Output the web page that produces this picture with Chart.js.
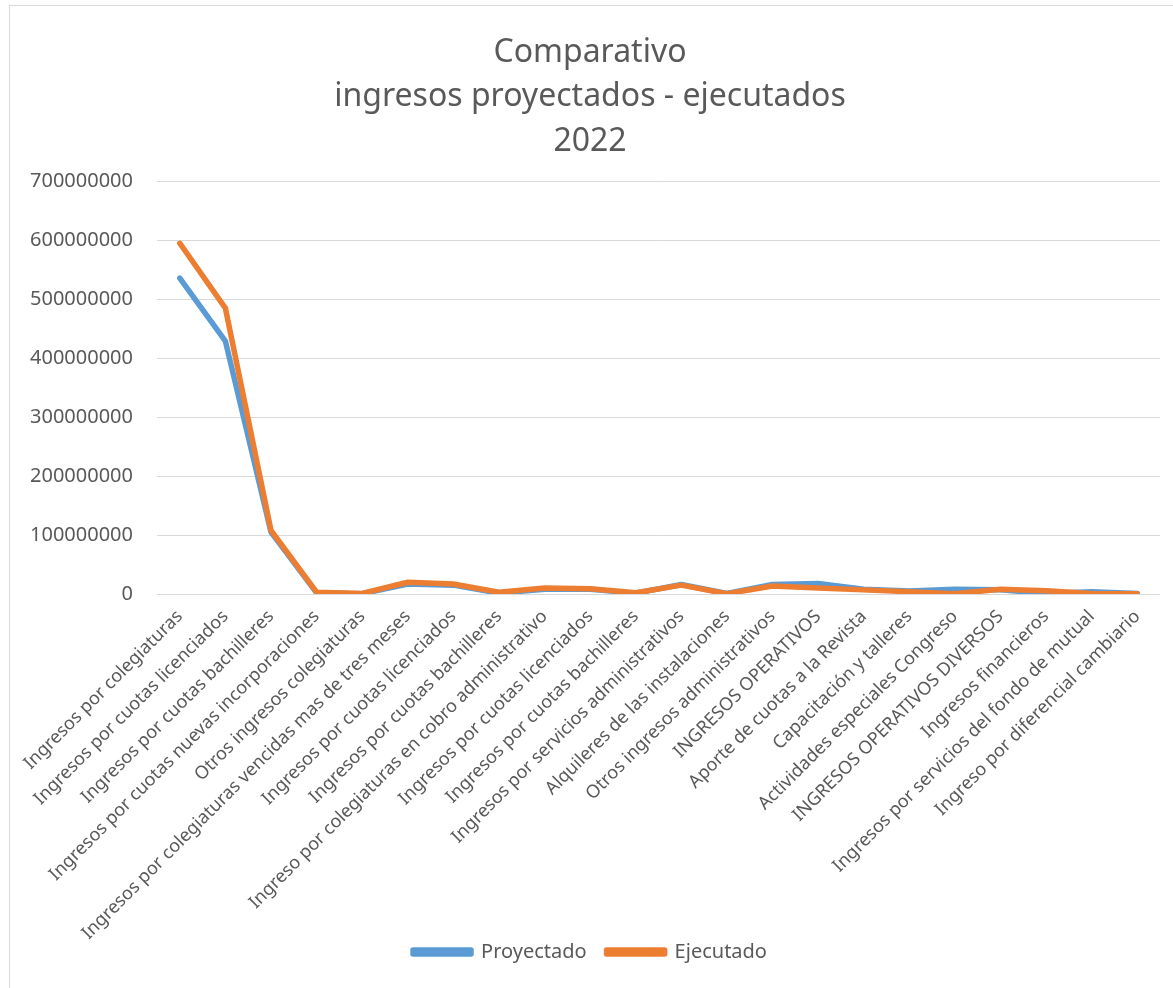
<!DOCTYPE html>
<html>
<head>
<meta charset="utf-8">
<script src="https://cdn.jsdelivr.net/npm/chart.js@4"></script>
<style>
  html, body { margin: 0; padding: 0; background: #ffffff; }
  #wrap { position: absolute; left: 0; top: 0; width: 1173px; height: 988px; }
  #frame { position: absolute; left: 9px; top: 5px; width: 1170px; height: 990px; border: 1px solid #d9d9d9; box-sizing: border-box; }
</style>
</head>
<body>
<div id="wrap">
  <div id="frame"></div>
  <canvas id="comparativoChart" width="1173" height="988"></canvas>
</div>
<script>
// categorias (eje X)
var categorias = [
    'Ingresos por colegiaturas',
    'Ingresos por cuotas licenciados',
    'Ingresos por cuotas bachilleres',
    'Ingresos por cuotas nuevas incorporaciones',
    'Otros ingresos colegiaturas',
    'Ingresos por colegiaturas vencidas mas de tres meses',
    'Ingresos por cuotas licenciados',
    'Ingresos por cuotas bachilleres',
    'Ingreso por colegiaturas en cobro administrativo',
    'Ingresos por cuotas licenciados',
    'Ingresos por cuotas bachilleres',
    'Ingresos por servicios administrativos',
    'Alquileres de las instalaciones',
    'Otros ingresos administrativos',
    'INGRESOS OPERATIVOS',
    'Aporte de cuotas a la Revista',
    'Capacitación y talleres',
    'Actividades especiales Congreso',
    'INGRESOS OPERATIVOS DIVERSOS',
    'Ingresos financieros',
    'Ingresos por servicios del fondo de mutual',
    'Ingreso por diferencial cambiario'
];

// valores (aprox.)
var proyectado = [
    536000000, 429000000, 105000000, 2000000, 500000, 17000000, 15000000, 1500000,
    8000000, 8000000, 1500000, 16000000, 1000000, 16000000, 18000000, 8000000,
    5000000, 8000000, 7000000, 1000000, 4000000, 1000000
];
var ejecutado = [
    595000000, 485000000, 108000000, 3000000, 1000000, 20000000, 17000000, 3000000,
    10000000, 9000000, 2000000, 15000000, 500000, 13500000, 10000000, 7000000,
    4000000, 500000, 8000000, 5500000, 1000000, 500000
];

var yTicksMax = 700000000;
var yTicksStep = 100000000;

var tituloLineas = ['Comparativo', 'ingresos proyectados - ejecutados', '2022'];

var fontFamily = "'Noto Sans', 'Open Sans', sans-serif";
var textColor = '#595959';

var ctx = document.getElementById('comparativoChart').getContext('2d');
new Chart(ctx, {
    type: 'line',
    data: {
        labels: categorias,
        datasets: [
            {
                label: 'Proyectado',
                data: proyectado,
                borderColor: '#5b9bd5',
                backgroundColor: '#5b9bd5',
                borderWidth: 5.5,
                pointRadius: 0,
                tension: 0,
                order: 1,
                borderCapStyle: 'round',
                borderJoinStyle: 'round'
            },
            {
                label: 'Ejecutado',
                data: ejecutado,
                borderColor: '#ed7d31',
                backgroundColor: '#ed7d31',
                borderWidth: 5.5,
                pointRadius: 0,
                tension: 0,
                order: 0,   // se dibuja encima
                borderCapStyle: 'round',
                borderJoinStyle: 'round'
            }
        ]
    },
    options: {
        responsive: false,
        animation: false,
        layout: {
            padding: { left: 20, right: 13, top: 18, bottom: 16 }
        },
        plugins: {
            title: {
                display: true,
                text: tituloLineas,
                color: textColor,
                font: { family: fontFamily, size: 32, weight: 'normal', lineHeight: 1.4 },
                padding: { top: 12, bottom: 17 }
            },
            legend: {
                position: 'bottom',
                labels: {
                    color: textColor,
                    font: { family: fontFamily, size: 20 },
                    boxWidth: 58,
                    boxHeight: 4,
                    padding: 20,
                    sort: function(a, b) { return a.datasetIndex - b.datasetIndex; }
                }
            },
            tooltip: { enabled: false }
        },
        scales: {
            x: {
                offset: true,
                grid: { display: false },
                border: { display: false },
                ticks: {
                    autoSkip: false,
                    minRotation: 45,
                    maxRotation: 45,
                    color: textColor,
                    font: { family: fontFamily, size: 18 },
                    padding: 4
                },
                afterFit: function(scale) {
                    scale.height = 328;
                    // las etiquetas largas bajan hasta la leyenda, como en el original
                    scale._computeLabelArea = function() { return undefined; };
                }
            },
            y: {
                min: 0,
                max: yTicksMax,
                grid: { color: '#d9d9d9', lineWidth: 1, drawTicks: false },
                border: { display: false },
                ticks: {
                    stepSize: yTicksStep,
                    color: textColor,
                    font: { family: fontFamily, size: 20 },
                    padding: 24,
                    callback: function(value) { return String(value); }
                },
                afterFit: function(scale) { scale.width = 137; }
            }
        }
    }
});
</script>
</body>
</html>
